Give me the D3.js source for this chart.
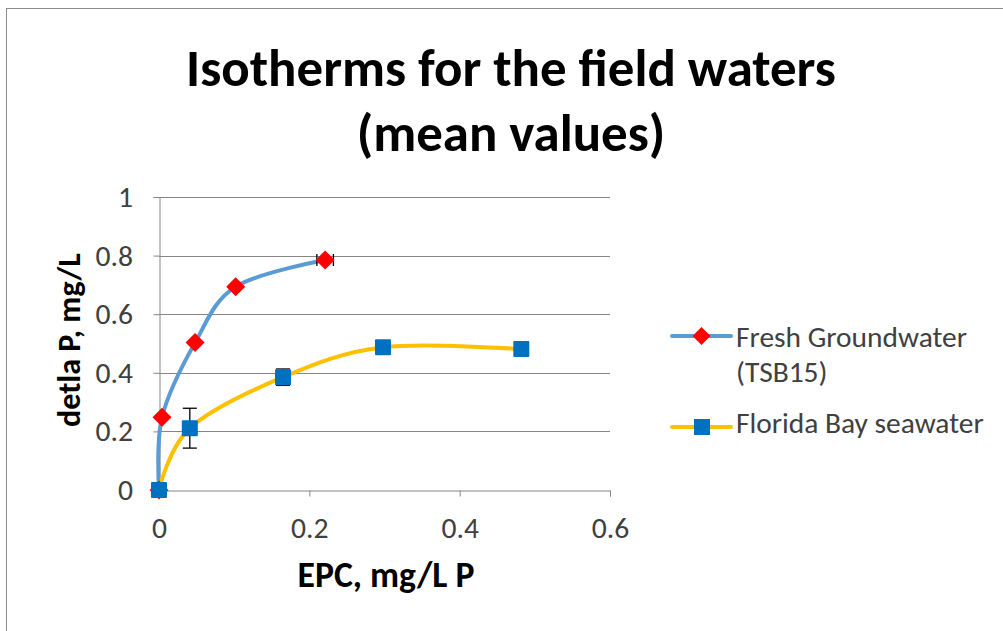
<!DOCTYPE html>
<html>
<head>
<meta charset="utf-8">
<script src="https://cdn.jsdelivr.net/npm/d3@7"></script>
<style>
  html, body { margin: 0; padding: 0; background: #fff; }
  svg { display: block; }
  text { font-family: Carlito, Calibri, Lato, "Liberation Sans", sans-serif; }
</style>
</head>
<body>
<svg id="chart" width="1003" height="631"></svg>
<script>
// ---- data ----
const titleLines = ["Isotherms for the field waters", "(mean values)"];
const xTicks = [0, 0.2, 0.4, 0.6];
const yTicks = [0, 0.2, 0.4, 0.6, 0.8, 1];
const xLabel = "EPC, mg/L P";
const yLabel = "detla P, mg/L";

const freshName = ["Fresh Groundwater", "(TSB15)"];
const freshX = [0, 0.004, 0.048, 0.102, 0.221];
const freshY = [0, 0.248, 0.503, 0.694, 0.785];
const freshXErr = [0, 0, 0, 0, 0.011];

const bayName = ["Florida Bay seawater"];
const bayX = [0, 0.041, 0.165, 0.298, 0.482];
const bayY = [0, 0.211, 0.385, 0.487, 0.481];
const bayYErr = [0, 0.068, 0.028, 0, 0];

// ---- layout ----
const svg = d3.select("#chart");
const pLeft = 159, pRight = 610, pTop = 197, pBottom = 490;
const x = d3.scaleLinear().domain([0, 0.6]).range([pLeft, pRight]);
const y = d3.scaleLinear().domain([0, 1]).range([pBottom, pTop]);

// scale a text's font size so that its rendered width matches a target width
function fitWidth(sel, target) {
  const w = sel.node().getComputedTextLength();
  const fs = +sel.attr("font-size") * target / w;
  sel.attr("font-size", fs);
  return fs;
}

// outer frame
svg.append("rect").attr("x", 6.5).attr("y", 8.5).attr("width", 1100).attr("height", 700)
  .attr("fill", "#fff").attr("stroke", "#8c8c8c").attr("stroke-width", 1);

// title
const t1 = svg.append("text").attr("x", 511).attr("y", 86).attr("text-anchor", "middle")
  .attr("font-size", 47).attr("font-weight", "bold").attr("fill", "#000").text(titleLines[0]);
const tfs = fitWidth(t1, 650);
svg.append("text").attr("x", 511).attr("y", 151).attr("text-anchor", "middle")
  .attr("font-size", tfs).attr("font-weight", "bold").attr("fill", "#000").text(titleLines[1]);

// gridlines
svg.append("g").selectAll("line").data(yTicks.filter(d => d > 0)).join("line")
  .attr("x1", pLeft).attr("x2", pRight)
  .attr("y1", d => Math.round(y(d)) + 0.5).attr("y2", d => Math.round(y(d)) + 0.5)
  .attr("stroke", "#868686").attr("stroke-width", 1);

// tick label size: fit "0.8" to reference width
const probe = svg.append("text").attr("font-size", 24).text("0.8");
const tickFs = fitWidth(probe, 37.5);
probe.remove();

// axes
const gx = svg.append("g").attr("transform", `translate(0,${pBottom + 0.5})`)
  .call(d3.axisBottom(x).tickValues(xTicks).tickSize(6).tickFormat(d3.format("")));
const gy = svg.append("g").attr("transform", `translate(${pLeft + 0.5},0)`)
  .call(d3.axisLeft(y).tickValues(yTicks).tickSize(6).tickPadding(20).tickFormat(d3.format("")));
[gx, gy].forEach(g => {
  g.select(".domain").attr("stroke", "#868686");
  g.selectAll(".tick line").attr("stroke", "#868686");
  g.selectAll(".tick text").attr("font-size", tickFs).attr("fill", "#404040")
    .style("font-family", "Carlito, Calibri, Lato, sans-serif");
});
gx.selectAll(".tick text").attr("y", 47.5).attr("dy", 0);
gy.selectAll(".tick text").attr("x", -26.5);

// axis titles
const xl = svg.append("text").attr("x", 386).attr("y", 587).attr("text-anchor", "middle")
  .attr("font-size", 30).attr("font-weight", "bold").attr("fill", "#000").text(xLabel);
fitWidth(xl, 177);
const yl = svg.append("text").attr("transform", "translate(80,340) rotate(-90)").attr("text-anchor", "middle")
  .attr("font-size", 30).attr("font-weight", "bold").attr("fill", "#000").text(yLabel);
fitWidth(yl, 174);

// series
const line = d3.line().x(d => x(d[0])).y(d => y(d[1])).curve(d3.curveCatmullRom.alpha(0));
const freshPts = freshX.map((v, i) => [v, freshY[i], freshXErr[i]]);
const bayPts = bayX.map((v, i) => [v, bayY[i], bayYErr[i]]);

const blue = "#5B9BD5", yellow = "#FFC000", red = "#FF0000", sq = "#0070C0";

svg.append("path").datum(freshPts).attr("d", line).attr("fill", "none")
  .attr("stroke", blue).attr("stroke-width", 4).attr("stroke-linejoin", "round");
svg.append("path").datum(bayPts).attr("d", line).attr("fill", "none")
  .attr("stroke", yellow).attr("stroke-width", 4).attr("stroke-linejoin", "round");

// fresh error bars (horizontal)
const errG = svg.append("g").attr("stroke", "#000").attr("stroke-width", 1.3);
freshPts.filter(d => d[2] > 0).forEach(d => {
  const cy = y(d[1]), x1 = x(d[0] - d[2]), x2 = x(d[0] + d[2]);
  errG.append("line").attr("x1", x1).attr("x2", x2).attr("y1", cy).attr("y2", cy);
  errG.append("line").attr("x1", x1).attr("x2", x1).attr("y1", cy - 6).attr("y2", cy + 6);
  errG.append("line").attr("x1", x2).attr("x2", x2).attr("y1", cy - 6).attr("y2", cy + 6);
});
// bay error bars (vertical)
bayPts.filter(d => d[2] > 0).forEach(d => {
  const cx = x(d[0]), y1 = y(d[1] - d[2]), y2 = y(d[1] + d[2]);
  errG.append("line").attr("x1", cx).attr("x2", cx).attr("y1", y1).attr("y2", y2);
  errG.append("line").attr("x1", cx - 7).attr("x2", cx + 7).attr("y1", y1).attr("y2", y1);
  errG.append("line").attr("x1", cx - 7).attr("x2", cx + 7).attr("y1", y2).attr("y2", y2);
});

// markers
const diamond = (cx, cy, r) => `M${cx},${cy - r}L${cx + r},${cy}L${cx},${cy + r}L${cx - r},${cy}Z`;
svg.append("g").selectAll("path").data(freshPts).join("path")
  .attr("d", d => diamond(x(d[0]), y(d[1]), 9.5)).attr("fill", red);
svg.append("g").selectAll("rect").data(bayPts).join("rect")
  .attr("x", d => x(d[0]) - 8).attr("y", d => y(d[1]) - 8)
  .attr("width", 16).attr("height", 16).attr("rx", 1).attr("fill", sq);

// legend
const lg = svg.append("g");
const ly1 = 336, ly2 = 427;
lg.append("line").attr("x1", 672).attr("x2", 731).attr("y1", ly1).attr("y2", ly1)
  .attr("stroke", blue).attr("stroke-width", 4).attr("stroke-linecap", "round");
lg.append("path").attr("d", diamond(701.5, ly1, 9)).attr("fill", red);
const lt1 = lg.append("text").attr("x", 736).attr("y", 347).attr("font-size", 26).attr("fill", "#404040").text(freshName[0]);
const lfs = fitWidth(lt1, 231);
lg.append("text").attr("x", 736).attr("y", 382).attr("font-size", lfs).attr("fill", "#404040").text(freshName[1]);
lg.append("line").attr("x1", 672).attr("x2", 731).attr("y1", ly2).attr("y2", ly2)
  .attr("stroke", yellow).attr("stroke-width", 4).attr("stroke-linecap", "round");
lg.append("rect").attr("x", 694).attr("y", ly2 - 8).attr("width", 16).attr("height", 16).attr("fill", sq);
lg.append("text").attr("x", 736).attr("y", 433).attr("font-size", lfs).attr("fill", "#404040").text(bayName[0]);
</script>
</body>
</html>
